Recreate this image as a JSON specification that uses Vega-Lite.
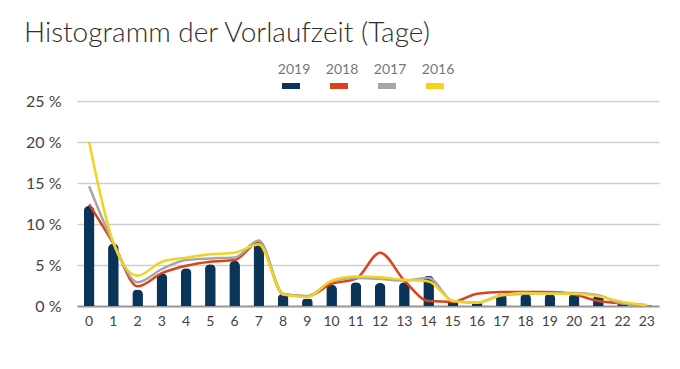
{
  "$schema": "https://vega.github.io/schema/vega-lite/v6.json",
  "width": 582,
  "height": 205,
  "autosize": {"type": "none"},
  "padding": {"left": 77, "top": 101, "right": 21, "bottom": 63},
  "background": "white",
  "title": {
    "text": "Histogramm der Vorlaufzeit (Tage)",
    "anchor": "start",
    "frame": "group",
    "dx": -53,
    "offset": 9,
    "font": "Lato",
    "fontSize": 28,
    "fontWeight": 300,
    "color": "#2e2e2e"
  },
  "config": {
    "view": {"stroke": null},
    "font": "Lato"
  },
  "datasets": {
    "d": [
      {"t":"0","Jahr":"2019","v":12.2},{"t":"1","Jahr":"2019","v":7.6},{"t":"2","Jahr":"2019","v":2.0},{"t":"3","Jahr":"2019","v":4.0},{"t":"4","Jahr":"2019","v":4.6},{"t":"5","Jahr":"2019","v":5.1},{"t":"6","Jahr":"2019","v":5.5},{"t":"7","Jahr":"2019","v":7.6},{"t":"8","Jahr":"2019","v":1.5},{"t":"9","Jahr":"2019","v":0.9},{"t":"10","Jahr":"2019","v":2.6},{"t":"11","Jahr":"2019","v":2.9},{"t":"12","Jahr":"2019","v":2.8},{"t":"13","Jahr":"2019","v":2.9},{"t":"14","Jahr":"2019","v":3.7},{"t":"15","Jahr":"2019","v":0.6},{"t":"16","Jahr":"2019","v":0.4},{"t":"17","Jahr":"2019","v":1.5},{"t":"18","Jahr":"2019","v":1.5},{"t":"19","Jahr":"2019","v":1.5},{"t":"20","Jahr":"2019","v":1.5},{"t":"21","Jahr":"2019","v":1.4},{"t":"22","Jahr":"2019","v":0.3},{"t":"23","Jahr":"2019","v":0.1},
      {"t":"0","Jahr":"2018","v":12.4},{"t":"1","Jahr":"2018","v":7.6},{"t":"2","Jahr":"2018","v":2.4},{"t":"3","Jahr":"2018","v":4.0},{"t":"4","Jahr":"2018","v":4.9},{"t":"5","Jahr":"2018","v":5.4},{"t":"6","Jahr":"2018","v":5.6},{"t":"7","Jahr":"2018","v":7.8},{"t":"8","Jahr":"2018","v":1.4},{"t":"9","Jahr":"2018","v":1.2},{"t":"10","Jahr":"2018","v":2.7},{"t":"11","Jahr":"2018","v":3.3},{"t":"12","Jahr":"2018","v":6.5},{"t":"13","Jahr":"2018","v":3.1},{"t":"14","Jahr":"2018","v":0.6},{"t":"15","Jahr":"2018","v":0.5},{"t":"16","Jahr":"2018","v":1.5},{"t":"17","Jahr":"2018","v":1.7},{"t":"18","Jahr":"2018","v":1.7},{"t":"19","Jahr":"2018","v":1.7},{"t":"20","Jahr":"2018","v":1.4},{"t":"21","Jahr":"2018","v":0.6},{"t":"22","Jahr":"2018","v":0.3},{"t":"23","Jahr":"2018","v":0.1},
      {"t":"0","Jahr":"2017","v":14.6},{"t":"1","Jahr":"2017","v":7.7},{"t":"2","Jahr":"2017","v":2.9},{"t":"3","Jahr":"2017","v":4.5},{"t":"4","Jahr":"2017","v":5.6},{"t":"5","Jahr":"2017","v":5.8},{"t":"6","Jahr":"2017","v":5.9},{"t":"7","Jahr":"2017","v":8.0},{"t":"8","Jahr":"2017","v":1.5},{"t":"9","Jahr":"2017","v":1.2},{"t":"10","Jahr":"2017","v":3.0},{"t":"11","Jahr":"2017","v":3.4},{"t":"12","Jahr":"2017","v":3.3},{"t":"13","Jahr":"2017","v":3.1},{"t":"14","Jahr":"2017","v":3.4},{"t":"15","Jahr":"2017","v":0.6},{"t":"16","Jahr":"2017","v":0.4},{"t":"17","Jahr":"2017","v":1.3},{"t":"18","Jahr":"2017","v":1.5},{"t":"19","Jahr":"2017","v":1.6},{"t":"20","Jahr":"2017","v":1.6},{"t":"21","Jahr":"2017","v":1.3},{"t":"22","Jahr":"2017","v":0.3},{"t":"23","Jahr":"2017","v":0.1},
      {"t":"0","Jahr":"2016","v":20.0},{"t":"1","Jahr":"2016","v":7.7},{"t":"2","Jahr":"2016","v":3.7},{"t":"3","Jahr":"2016","v":5.4},{"t":"4","Jahr":"2016","v":5.9},{"t":"5","Jahr":"2016","v":6.3},{"t":"6","Jahr":"2016","v":6.5},{"t":"7","Jahr":"2016","v":7.5},{"t":"8","Jahr":"2016","v":1.4},{"t":"9","Jahr":"2016","v":1.1},{"t":"10","Jahr":"2016","v":3.1},{"t":"11","Jahr":"2016","v":3.6},{"t":"12","Jahr":"2016","v":3.5},{"t":"13","Jahr":"2016","v":3.2},{"t":"14","Jahr":"2016","v":3.0},{"t":"15","Jahr":"2016","v":0.6},{"t":"16","Jahr":"2016","v":0.4},{"t":"17","Jahr":"2016","v":1.3},{"t":"18","Jahr":"2016","v":1.6},{"t":"19","Jahr":"2016","v":1.5},{"t":"20","Jahr":"2016","v":1.5},{"t":"21","Jahr":"2016","v":1.2},{"t":"22","Jahr":"2016","v":0.5},{"t":"23","Jahr":"2016","v":0.1}
    ]
  },
  "data": {"name": "d"},
  "encoding": {
    "x": {
      "field": "t", "type": "ordinal", "sort": null,
      "scale": {"paddingInner": 0, "paddingOuter": 0},
      "axis": {
        "title": null, "labelAngle": 0, "ticks": false,
        "domainColor": "#9a9a9a", "domainWidth": 2,
        "labelColor": "#444444", "labelFontSize": 14, "labelPadding": 8
      }
    },
    "y": {
      "field": "v", "type": "quantitative",
      "scale": {"domain": [0, 25]},
      "axis": {
        "title": null, "values": [0, 5, 10, 15, 20, 25],
        "labelExpr": "datum.label + ' %'",
        "domain": false, "ticks": false,
        "gridColor": "#cfcfcf", "gridWidth": 1.5,
        "labelColor": "#444444", "labelFontSize": 16, "labelPadding": 16
      }
    },
    "color": {
      "field": "Jahr", "type": "nominal",
      "scale": {"domain": ["2019", "2018", "2017", "2016"], "range": ["#0b3558", "#d9431e", "#a6a6a6", "#f4d21f"]},
      "legend": {
        "title": null, "orient": "none", "direction": "horizontal",
        "legendX": 201, "legendY": -44,
        "symbolType": "M-0.9,1.6L0.9,1.6", "symbolSize": 400, "symbolStrokeWidth": 6,
        "symbolFillColor": "transparent",
        "labelAlign": "center", "labelOffset": -10, "labelBaseline": "middle",
        "labelColor": "#777777", "labelFontSize": 14,
        "columnPadding": 6
      }
    }
  },
  "layer": [
    {
      "transform": [{"filter": "datum.Jahr == '2019'"}],
      "mark": {"type": "bar", "width": {"band": 0.44}, "cornerRadiusTopLeft": 5, "cornerRadiusTopRight": 5}
    },
    {
      "transform": [{"filter": "datum.Jahr != '2019'"}],
      "mark": {"type": "line", "interpolate": "monotone", "strokeWidth": 2.5}
    }
  ]
}
